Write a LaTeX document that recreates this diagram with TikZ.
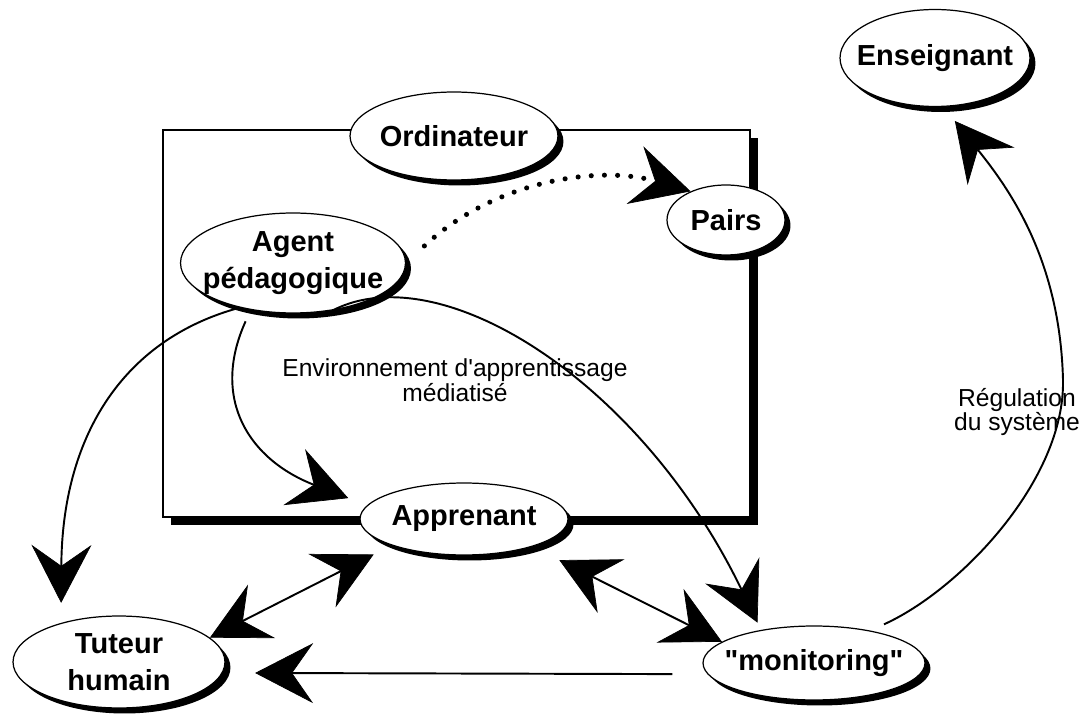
\documentclass[tikz,border=0pt]{standalone}
\usepackage{fontspec}
\setmainfont{Liberation Sans}
\usetikzlibrary{shapes.geometric,arrows.meta,shadows}

\begin{document}
\begin{tikzpicture}[x=0.02cm,y=-0.02cm,
    blob/.style={ellipse,draw,fill=white,line width=0.7pt,inner xsep=-1cm,inner ysep=-0.2cm,align=center,
        font=\fontsize{16.5}{21}\selectfont\bfseries,
        drop shadow={shadow xshift=0.11cm,shadow yshift=-0.11cm,opacity=1,fill=black}},
    envbox/.style={draw,fill=white,line width=1pt,minimum width=11.74cm,minimum height=7.74cm,
        drop shadow={shadow xshift=0.16cm,shadow yshift=-0.16cm,opacity=1,fill=black}},
    link/.style={line width=1.1pt},
    dots/.style={line width=2.9pt,dash pattern=on 0pt off 7.5pt,line cap=round},
    note/.style={align=center,font=\fontsize{14}{14}\selectfont},
    >={Stealth[length=1.16cm,width=1.2cm,inset=0.42cm,line width=0.4pt]}]

    \useasboundingbox (0,0) rectangle (1088,715);

    \node [envbox] (env) at (456.5,323.5) {};

    \node [blob,minimum width=4.16cm,minimum height=1.76cm] (ord) at (454,136) {Ordinateur};
    \node [blob,minimum width=4.5cm,minimum height=2cm] (ag) at (293,263) {Agent\\pédagogique};
    \node [blob,minimum width=2.36cm,minimum height=1.4cm] (pa) at (726,220) {Pairs};
    \node [blob,minimum width=3.8cm,minimum height=1.94cm] (ens) at (935,58) {Enseignant};
    \node [blob,minimum width=4.16cm,minimum height=1.44cm] (app) at (464,519) {Apprenant};
    \node [blob,minimum width=4.24cm,minimum height=1.84cm] (tut) at (119,662) {Tuteur\\humain};
    \node [blob,minimum width=4.44cm,minimum height=1.48cm] (mon) at (814,663) {\textquotedbl monitoring\textquotedbl};

    \node [note] (envtxt) at (455,380) {Environnement d{\textquotesingle}apprentissage\\médiatisé};
    \node [note] (reg) at (1017,412) {Régulation\\du système};

    % liens
    \draw [dots,->,shorten <=0.5cm] (ag.east) .. controls (495,180) and (600,165) .. (pa.141);
    \draw [link,->,shorten >=0.4cm] (ag.220) .. controls (120,340) and (62,440) .. (tut.146);
    \draw [link,->,shorten <=0.25cm,shorten >=0.4cm] (ag.228) .. controls (210,400) and (250,460) .. (app.172);
    \draw [link,->,shorten >=0.16cm] (ag.310) .. controls (440,255) and (640,380) .. (mon.148);
    \draw [link,<->,shorten >=0.4cm] (tut.15) -- (app.200);
    \draw [link,<->,shorten <=0.6cm] (app.338) -- (mon.167);
    \draw [link,->,shorten <=0.7cm,shorten >=0.65cm] (mon.186) -- (tut.-6);
    \draw [link,->,shorten <=0.3cm,shorten >=0.36cm] (mon.30) .. controls (960,590) and (1065,480) .. (1063,380)
        .. controls (1060,260) and (1010,190) .. (ens.280);
\end{tikzpicture}
\end{document}
